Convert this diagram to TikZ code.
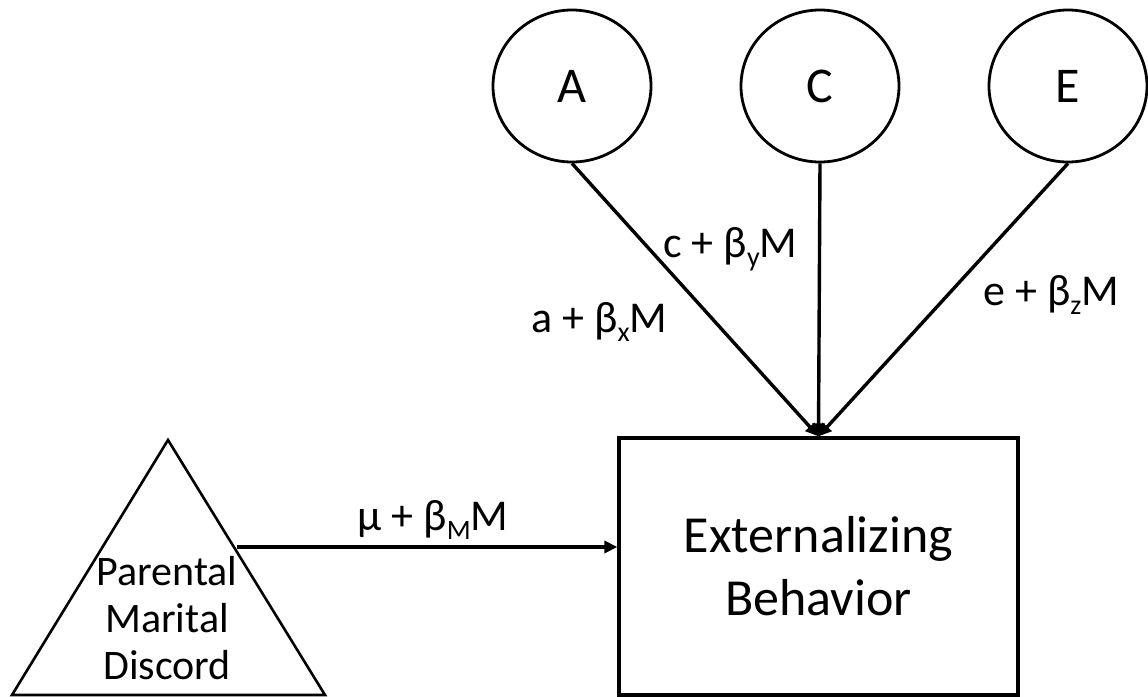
\documentclass[tikz,border=0pt]{standalone}
\usepackage{fontspec}
\setmainfont{Carlito}
\usetikzlibrary{arrows.meta,shapes.geometric}
\newcommand{\mysub}[1]{\raisebox{-0.22em}{\fontsize{14}{14}\selectfont #1}}
\begin{document}
\begin{tikzpicture}[x=0.5pt,y=-0.5pt,
  latent/.style={draw,ellipse,line width=1.4pt,minimum width=79pt,minimum height=76pt,inner sep=0pt,font=\fontsize{25}{30}\selectfont},
  obsbox/.style={draw,rectangle,line width=1.6pt,minimum width=199.5pt,minimum height=128.5pt,inner sep=0pt,align=center,font=\fontsize{26}{31.5}\selectfont},
  conn/.style={line width=1.7pt,-{Triangle[length=6.5pt,width=6pt]}},
  lbl/.style={font=\fontsize{22}{26}\selectfont,inner sep=0pt,anchor=base west},
  trilbl/.style={align=center,inner sep=0pt,font=\fontsize{21}{23.3}\selectfont}]
\useasboundingbox (0,0) rectangle (1148,697);
\node[latent] (A) at (572,86) {A};
\node[latent] (C) at (820,86) {C};
\node[latent] (E) at (1068,86) {E};
\node[obsbox] (B) at (818.5,566.5) {Externalizing\\Behavior};
\draw[line width=1.3pt] (168,440) coordinate (tp) -- (325,695) coordinate (tr2) -- (12,695) coordinate (tl) -- cycle;
\node[trilbl] (pmd) at (167,618) {Parental\\Marital\\Discord};
\coordinate (tr) at (237,547);
\draw[conn] (A.south) -- (B.north);
\draw[conn] (C.south) -- (B.north);
\draw[conn] (E.south) -- (B.north);
\draw[conn] (tr) -- (tr -| B.west);
\node[lbl] (la) at (531,332) {a + β\mysub{x}M};
\node[lbl] (lc) at (663,257) {c + β\mysub{y}M};
\node[lbl] (le) at (983,305) {e + β\mysub{z}M};
\node[lbl] (lm) at (357,530) {μ + β\mysub{M}M};
\end{tikzpicture}
\end{document}
